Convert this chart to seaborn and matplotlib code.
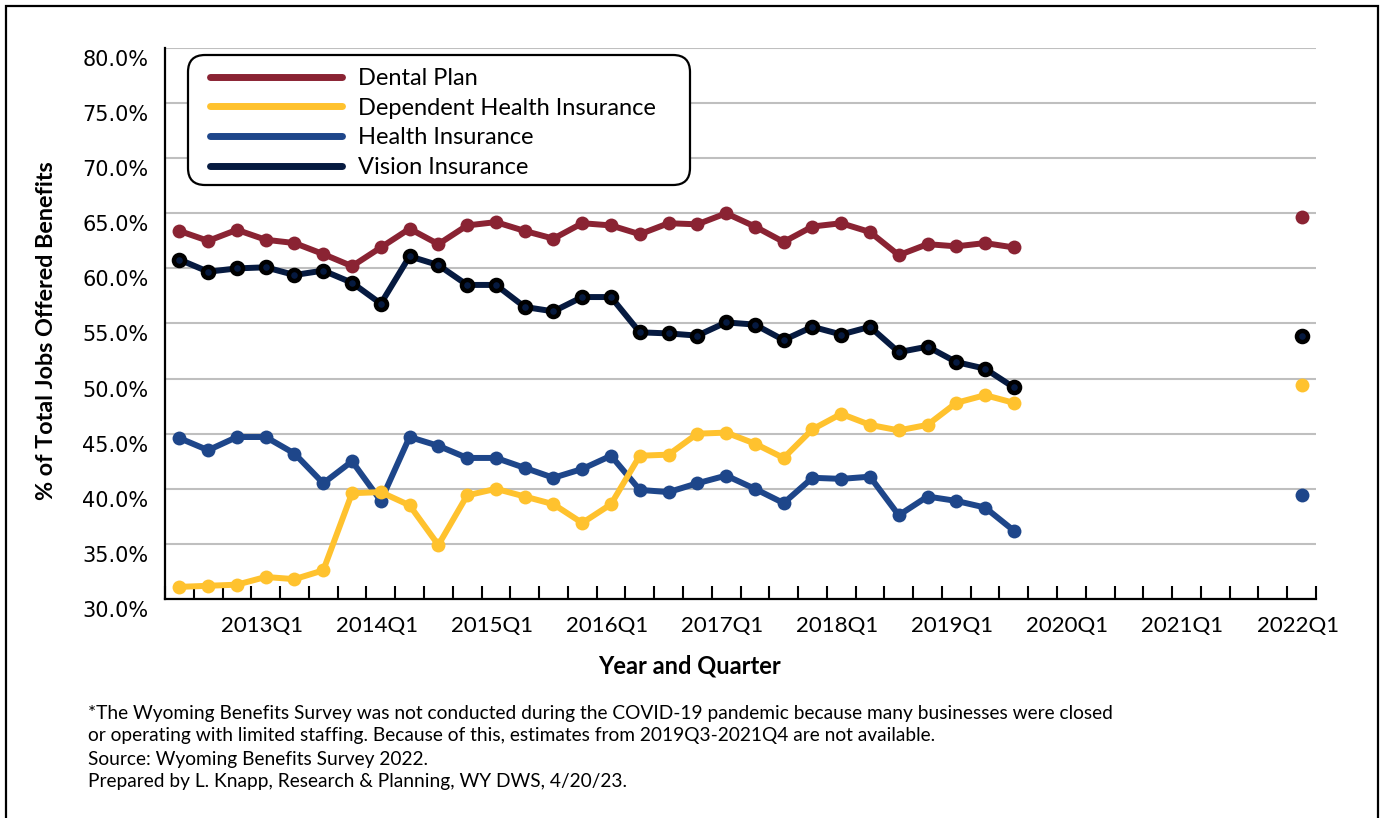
import matplotlib
matplotlib.use("Agg")
import matplotlib.pyplot as plt
import matplotlib.ticker as mticker
import matplotlib.transforms as mtransforms
from matplotlib.lines import Line2D
from matplotlib.patches import Rectangle, FancyBboxPatch
import seaborn as sns

# quarters on the axis: 2012Q2 .. 2022Q1
quarters = [f"{y}Q{q}" for y in range(2012, 2023) for q in range(1, 5)][1:41]
survey_quarters = quarters[:30]          # 2012Q2 .. 2019Q3
latest_quarter = "2022Q1"
tick_labels = ["2013Q1", "2014Q1", "2015Q1", "2016Q1", "2017Q1",
               "2018Q1", "2019Q1", "2020Q1", "2021Q1", "2022Q1"]

dental = [63.4, 62.5, 63.5, 62.6, 62.3, 61.3, 60.2, 61.9, 63.6, 62.2,
          63.9, 64.2, 63.4, 62.7, 64.1, 63.9, 63.1, 64.1, 64.0, 65.0,
          63.8, 62.4, 63.8, 64.1, 63.3, 61.2, 62.2, 62.0, 62.3, 61.9]
dependent = [31.1, 31.2, 31.3, 32.0, 31.8, 32.6, 39.6, 39.7, 38.5, 34.9,
             39.4, 40.0, 39.3, 38.6, 36.9, 38.6, 43.0, 43.1, 45.0, 45.1,
             44.1, 42.8, 45.4, 46.8, 45.8, 45.3, 45.8, 47.8, 48.5, 47.8]
health = [44.6, 43.5, 44.7, 44.7, 43.2, 40.5, 42.5, 38.9, 44.7, 43.9,
          42.8, 42.8, 41.9, 41.0, 41.8, 43.0, 39.9, 39.7, 40.5, 41.2,
          40.0, 38.7, 41.0, 40.9, 41.1, 37.6, 39.3, 38.9, 38.3, 36.2]
vision = [60.8, 59.7, 60.0, 60.1, 59.4, 59.8, 58.7, 56.8, 61.1, 60.3,
          58.5, 58.5, 56.5, 56.1, 57.4, 57.4, 54.2, 54.1, 53.9, 55.1,
          54.9, 53.5, 54.7, 54.0, 54.7, 52.4, 52.9, 51.5, 50.9, 49.2]
latest = {"Dental Plan": 64.7, "Dependent Health Insurance": 49.4,
          "Health Insurance": 39.4, "Vision Insurance": 53.9}

names = ["Dental Plan", "Dependent Health Insurance", "Health Insurance", "Vision Insurance"]
colors = ["#8A2333", "#FFC22E", "#1E468A", "#061A40"]

sns.set_theme(style="white")
plt.rcParams["font.family"] = ["Lato", "DejaVu Sans"]

fig = plt.figure(figsize=(13.83, 8.18), dpi=100)
ax = fig.add_axes([165 / 1383, 1 - 599 / 818, (1316 - 165) / 1383, (599 - 48) / 818])

pos = {q: i for i, q in enumerate(quarters)}
xs = [pos[q] for q in survey_quarters]
series = dict(zip(names, [dental, dependent, health, vision]))
col = dict(zip(names, colors))

draw_order = ["Dental Plan", "Health Insurance", "Dependent Health Insurance", "Vision Insurance"]
for name in draw_order:
    if name == "Vision Insurance":
        mk = dict(marker="o", markersize=8, markeredgewidth=3.2, markeredgecolor="black")
    else:
        mk = dict(marker="o", markersize=10, markeredgewidth=0, markeredgecolor=col[name])
    sns.lineplot(x=xs, y=series[name], color=col[name], linewidth=4.3, ax=ax, **mk)
    sns.lineplot(x=[pos[latest_quarter]], y=[latest[name]], color=col[name], ax=ax, **mk)

ax.set_xlim(-0.5, 39.5)
ax.set_ylim(30, 80)
ax.set_yticks(range(30, 81, 5))
ax.yaxis.set_major_formatter(mticker.PercentFormatter(xmax=100, decimals=1))
ax.set_xticks([pos[t] for t in tick_labels])
ax.set_xticklabels(tick_labels)
ax.set_xticks([i + 0.5 for i in range(-1, 40)], minor=True)

ax.yaxis.grid(True, color="#BFBFBF", linewidth=1.5)
ax.set_axisbelow(True)
for s in ["top", "right"]:
    ax.spines[s].set_visible(False)
for s in ["left", "bottom"]:
    ax.spines[s].set_color("black")
    ax.spines[s].set_linewidth(1.6)

ax.tick_params(axis="x", which="major", length=0, pad=12, labelsize=16, labelcolor="black")
ax.tick_params(axis="x", which="minor", bottom=True, direction="in", length=9.5,
               width=1.5, color="black")
ax.tick_params(axis="y", length=0, pad=12, labelsize=15, labelcolor="black")
for lab in ax.get_yticklabels():
    lab.set_fontfamily("DejaVu Sans")
    lab.set_transform(lab.get_transform() + mtransforms.ScaledTranslation(0, -0.1, fig.dpi_scale_trans))
for lab in ax.get_xticklabels():
    lab.set_transform(lab.get_transform() + mtransforms.ScaledTranslation(-0.04, 0, fig.dpi_scale_trans))

ax.set_xlabel("")
ax.set_ylabel("")
fig.text(47 / 1383, 1 - 331 / 818, "% of Total Jobs Offered Benefits", rotation=90,
         ha="center", va="center", fontsize=16.8, fontweight="bold", color="black")
fig.text(689 / 1383, 1 - 666 / 818, "Year and Quarter", ha="center", va="center",
         fontsize=17, fontweight="bold", color="black")

# legend box drawn separately so its padding matches the original
ax.add_patch(FancyBboxPatch((1.88, (818 - 185) / 100), 5.02, 1.30,
                            boxstyle="round,pad=0,rounding_size=0.17",
                            transform=fig.dpi_scale_trans, facecolor="white",
                            edgecolor="black", linewidth=1.6, zorder=4, clip_on=False))
handles = [Line2D([], [], color=col[n], linewidth=5, solid_capstyle="round") for n in names]
leg = ax.legend(handles, names, loc="upper left",
                bbox_to_anchor=((210 - 165) / 1151, 1 - (68 - 48) / 551),
                fontsize=17, handlelength=5.6, handletextpad=0.65, labelspacing=0.37,
                borderpad=0, borderaxespad=0, frameon=False)
leg.set_zorder(5)
for t in leg.get_texts():
    t.set_color("black")

notes = ["*The Wyoming Benefits Survey was not conducted during the COVID-19 pandemic because many businesses were closed",
         "or operating with limited staffing. Because of this, estimates from 2019Q3-2021Q4 are not available.",
         "Source: Wyoming Benefits Survey 2022.",
         "Prepared by L. Knapp, Research & Planning, WY DWS, 4/20/23."]
for i, line in enumerate(notes):
    fig.text(88 / 1383, 1 - (713 + 23 * i) / 818, line, ha="left", va="center",
             fontsize=13.8, color="black")

fig.add_artist(Rectangle((6 / 1383, -0.05), (1378 - 6) / 1383, 1.05 - 6 / 818,
                         transform=fig.transFigure, fill=False, edgecolor="black", linewidth=1.6))

fig.savefig("out.png", dpi=100)
